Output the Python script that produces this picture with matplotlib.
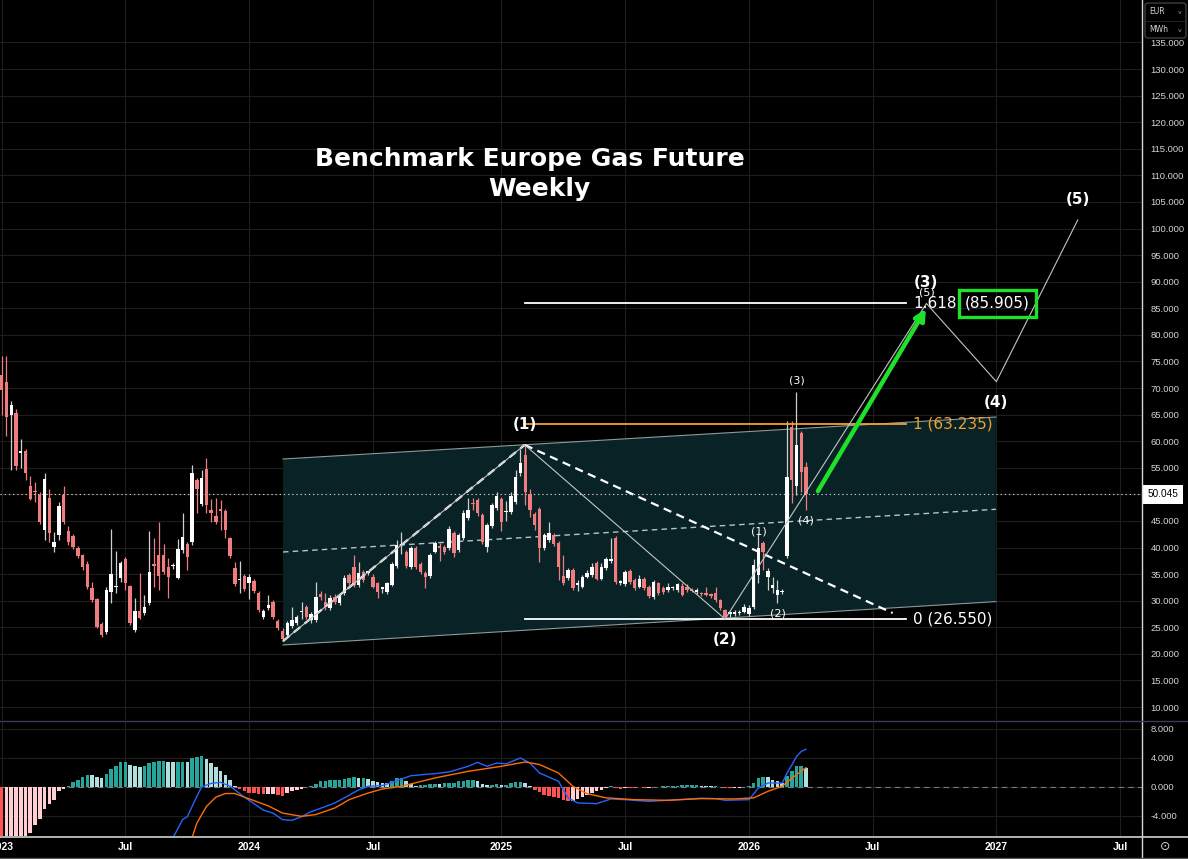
import datetime as dt
import numpy as np
import matplotlib
matplotlib.use("Agg")
import matplotlib.pyplot as plt
from matplotlib.patches import Polygon, FancyBboxPatch
from matplotlib.lines import Line2D
from matplotlib.transforms import blended_transform_factory

plt.rcParams['font.family'] = ['DejaVu Sans']
plt.rcParams['lines.scale_dashes'] = False

# ---------------- data ----------------
start_date = dt.date(2023, 1, 2)   # first weekly candle

opens = [72.4, 71.2, 65.0, 65.3, 57.8, 58.2, 51.6, 50.6, 49.9, 43.3,
         49.3, 40.1, 42.4, 49.9, 43.1, 42.2, 39.9, 38.6, 36.9, 32.4,
         30.3, 25.6, 24.1, 31.6, 32.5, 34.3, 37.8, 32.8, 24.5, 28.1,
         27.7, 29.6, 36.8, 38.6, 38.6, 36.3, 36.5, 34.3, 39.5, 40.7,
         41.0, 52.7, 48.2, 54.8, 47.1, 45.9, 47.2, 46.9, 41.8, 36.2,
         33.8, 34.6, 33.3, 33.7, 31.4, 26.9, 28.6, 29.8, 26.2, 24.3,
         23.5, 25.2, 25.8, 27.8, 28.8, 26.4, 26.4, 31.3, 29.8, 28.6,
         30.7, 29.6, 31.4, 34.8, 36.3, 33.0, 35.4, 35.2, 34.5, 33.3,
         32.2, 31.6, 33.0, 36.5, 40.4, 39.2, 36.3, 39.9, 36.9, 35.2,
         34.6, 39.2, 40.3, 40.1, 39.9, 42.7, 39.5, 41.8, 45.6, 48.3,
         48.9, 46.1, 40.1, 44.1, 47.4, 49.1, 46.6, 46.7, 48.6, 54.0,
         57.4, 50.1, 46.3, 47.3, 39.9, 41.4, 42.4, 40.9, 34.6, 34.3,
         35.8, 33.0, 32.6, 34.5, 34.8, 37.1, 34.1, 36.1, 37.5, 41.8,
         33.4, 33.1, 35.6, 33.9, 32.6, 34.1, 32.6, 30.7, 33.3, 32.4,
         32.0, 32.3, 32.0, 32.8, 32.6, 32.0, 31.6, 31.4, 31.3, 31.2,
         31.4, 30.1, 28.2, 27.5, 27.5, 27.6, 27.9, 27.5, 28.8, 34.8,
         40.9, 34.5, 32.4, 31.1, 31.6, 38.4, 62.7, 51.6, 61.5, 55.2]

highs = [76.0, 76.0, 67.5, 66.0, 60.4, 58.5, 53.5, 52.3, 50.5, 54.0,
         51.0, 43.0, 48.5, 51.6, 44.0, 42.5, 40.2, 38.8, 37.5, 33.5,
         30.5, 26.0, 32.5, 43.5, 39.3, 37.5, 38.2, 33.0, 30.5, 35.2,
         31.0, 43.1, 41.8, 44.8, 40.6, 38.0, 37.0, 41.6, 46.5, 41.0,
         55.6, 53.0, 54.5, 56.8, 49.1, 49.3, 48.9, 47.2, 42.0, 37.3,
         37.5, 35.0, 35.0, 34.0, 31.8, 28.5, 31.0, 30.2, 26.5, 24.8,
         26.2, 28.8, 27.3, 29.7, 29.2, 27.8, 33.5, 31.8, 31.4, 31.0,
         31.2, 31.3, 34.8, 35.2, 38.6, 37.2, 35.8, 35.6, 35.0, 33.6,
         32.6, 33.6, 37.3, 41.5, 42.9, 39.6, 40.2, 40.2, 37.2, 35.5,
         39.0, 41.3, 40.8, 40.5, 44.0, 43.1, 42.8, 47.0, 49.3, 49.3,
         49.3, 46.5, 44.6, 48.4, 50.5, 49.5, 48.8, 50.5, 54.5, 58.5,
         59.1, 51.0, 46.7, 47.7, 42.8, 44.8, 42.8, 41.2, 38.6, 36.2,
         36.2, 33.9, 34.9, 35.8, 37.1, 37.5, 37.1, 38.3, 41.8, 42.1,
         33.9, 35.7, 35.9, 34.2, 34.8, 34.4, 32.9, 33.8, 33.6, 32.7,
         33.4, 32.8, 33.4, 33.3, 33.1, 32.3, 32.4, 31.7, 32.5, 31.5,
         32.6, 30.4, 28.5, 28.0, 28.2, 28.2, 29.3, 29.1, 37.8, 42.7,
         41.2, 36.1, 34.5, 33.8, 32.2, 63.8, 63.8, 69.3, 62.0, 56.0]

lows = [65.0, 61.0, 54.6, 54.5, 55.0, 52.7, 49.0, 48.6, 44.5, 41.5,
        41.0, 39.1, 41.5, 44.5, 40.5, 39.8, 38.0, 35.8, 32.2, 29.8,
        24.8, 23.2, 23.8, 29.6, 31.5, 33.5, 32.0, 25.5, 24.2, 26.5,
        27.3, 29.2, 32.6, 32.0, 35.0, 30.5, 36.0, 34.0, 39.0, 35.8,
        40.5, 46.5, 47.8, 46.5, 44.8, 44.5, 43.3, 41.8, 38.0, 32.8,
        31.5, 31.8, 30.3, 31.4, 27.8, 26.5, 28.3, 26.5, 24.5, 22.4,
        23.2, 24.9, 25.5, 26.6, 26.5, 25.8, 26.0, 30.2, 28.3, 28.2,
        29.4, 29.2, 31.0, 33.0, 32.6, 32.6, 33.5, 34.8, 32.3, 30.5,
        31.4, 31.3, 32.7, 36.2, 38.8, 36.2, 36.0, 35.9, 35.0, 32.4,
        34.3, 38.9, 37.5, 38.8, 39.5, 38.2, 39.2, 41.4, 45.2, 47.0,
        46.0, 40.6, 39.2, 43.7, 47.0, 43.2, 45.0, 46.3, 48.2, 53.5,
        48.0, 45.8, 43.3, 37.3, 39.5, 41.0, 40.3, 33.9, 33.0, 33.9,
        32.0, 31.8, 32.3, 34.2, 34.5, 33.8, 33.8, 35.8, 37.1, 33.2,
        33.0, 32.8, 33.2, 32.1, 32.3, 32.1, 30.6, 30.4, 31.1, 31.3,
        31.7, 32.0, 31.7, 30.8, 31.7, 31.6, 31.3, 30.9, 30.8, 30.6,
        29.8, 28.3, 26.55, 26.9, 27.2, 27.3, 27.6, 27.2, 28.5, 33.3,
        35.8, 32.0, 31.4, 29.6, 31.2, 38.0, 48.4, 49.9, 50.5, 47.1]

closes = [69.6, 64.6, 66.8, 55.3, 57.9, 54.0, 49.1, 50.4, 44.8, 52.9,
          42.7, 41.0, 47.8, 44.8, 41.0, 40.1, 38.4, 36.3, 32.6, 30.1,
          25.0, 23.5, 32.0, 35.0, 32.7, 37.1, 33.3, 25.8, 28.1, 26.8,
          28.8, 35.4, 36.6, 34.6, 35.4, 34.5, 36.6, 39.7, 42.0, 38.2,
          54.0, 51.0, 53.1, 48.0, 46.5, 44.8, 46.9, 43.3, 38.4, 33.1,
          34.0, 32.2, 34.5, 31.8, 28.2, 28.1, 29.2, 26.9, 24.9, 22.8,
          25.8, 26.4, 26.9, 28.0, 26.9, 27.5, 30.7, 30.7, 28.8, 30.5,
          29.8, 30.9, 34.3, 33.3, 33.0, 35.2, 33.9, 35.3, 32.6, 31.6,
          32.3, 33.3, 36.9, 40.5, 40.6, 36.5, 39.9, 36.3, 35.4, 34.5,
          38.6, 40.9, 39.9, 39.2, 43.5, 39.0, 42.4, 46.5, 47.1, 48.1,
          46.5, 41.0, 44.2, 48.0, 49.7, 44.8, 46.8, 49.7, 53.3, 55.9,
          50.4, 47.1, 44.2, 39.9, 42.4, 42.7, 40.7, 36.3, 33.3, 35.8,
          32.4, 33.1, 34.5, 35.2, 36.3, 34.1, 36.3, 37.8, 37.7, 33.5,
          33.6, 35.4, 33.5, 32.4, 34.1, 32.4, 30.9, 33.5, 31.4, 31.6,
          32.6, 32.5, 33.1, 31.1, 32.0, 31.9, 32.1, 31.2, 31.1, 30.9,
          30.1, 28.6, 26.9, 27.6, 27.9, 27.9, 28.8, 28.6, 36.8, 39.9,
          39.2, 35.6, 33.0, 32.0, 31.8, 53.3, 52.7, 59.3, 54.2, 50.045]

macd_hist = [-9.8, -9.4, -8.9, -8.3, -7.7, -7.1, -6.4, -5.2, -4.4, -3.0,
             -2.4, -1.75, -0.6, -0.3, 0.2, 0.64, 1.0, 1.4, 1.7, 1.65,
             1.4, 1.24, 1.84, 2.5, 2.9, 3.45, 3.5, 3.0, 2.85, 2.7,
             2.9, 3.3, 3.5, 3.55, 3.6, 3.45, 3.4, 3.45, 3.5, 3.4,
             4.0, 4.2, 4.25, 3.8, 3.3, 2.7, 2.2, 1.6, 0.9, 0.2,
             -0.23, -0.6, -0.8, -0.85, -0.9, -1.0, -0.95, -0.9, -1.05, -1.3,
             -0.8, -0.6, -0.37, -0.23, -0.05, 0.2, 0.4, 0.8, 0.87, 0.95,
             0.97, 1.0, 1.15, 1.3, 1.32, 1.2, 1.24, 1.1, 0.87, 0.74,
             0.55, 0.5, 0.8, 1.24, 1.26, 0.8, 0.46, 0.18, 0.25, 0.32,
             0.4, 0.45, 0.4, 0.55, 0.56, 0.6, 0.8, 0.87, 0.95, 0.97,
             0.83, 0.46, 0.23, 0.32, 0.46, 0.28, 0.3, 0.55, 0.64, 0.74,
             0.55, 0.2, -0.37, -0.74, -1.05, -1.2, -1.38, -1.5, -1.8, -2.0,
             -1.95, -1.65, -1.38, -1.15, -0.8, -0.6, -0.37, -0.2, 0.14, -0.2,
             -0.22, -0.1, -0.12, -0.14, -0.05, -0.1, -0.08, -0.04, 0.02, 0.09,
             0.14, 0.18, 0.2, 0.23, 0.24, 0.25, 0.26, 0.2, 0.15, 0.12,
             0.18, -0.05, -0.1, -0.18, -0.15, -0.1, -0.05, 0.1, 0.55, 1.24,
             1.38, 1.33, 1.0, 0.78, 0.55, 1.56, 2.16, 2.85, 2.94, 2.62]
hist_before_start = -9.6

macd_weeks = [36, 38, 39, 41, 42, 44, 46, 48, 50, 51, 55, 57, 59, 61, 63, 65, 68, 70, 72, 75,
              77, 80, 84, 86, 91, 94, 98, 100, 102, 104, 106, 109, 111, 113, 117, 119, 121, 125, 128, 131,
              136, 142, 147, 150, 152, 157, 159, 161, 164, 165, 166, 167, 168, 169]
macd_line = [-7.0, -4.5, -4.1, -1.3, 0.0, 0.5, 0.64, 0.1, -0.9, -1.4, -3.2, -3.6, -4.5, -4.6, -4.1, -3.4, -2.7, -2.2, -1.5, -0.4,
             0.1, 0.2, 1.1, 1.56, 1.84, 2.07, 2.85, 3.4, 2.85, 3.3, 3.2, 4.0, 3.3, 1.93, 0.78, -1.5, -2.2, -2.3, -1.65, -1.75,
             -1.98, -1.75, -1.56, -1.6, -1.84, -1.75, -0.14, 0.55, 0.55, 1.9, 3.0, 4.2, 4.9, 5.2]
signal_weeks = [40, 41, 43, 45, 47, 49, 51, 56, 59, 63, 66, 70, 73, 77, 80, 84, 91, 98, 105, 110,
                113, 117, 120, 123, 127, 133, 140, 147, 154, 158, 161, 164, 166, 169]
signal_line = [-7.0, -5.0, -2.7, -1.4, -0.9, -0.9, -1.4, -2.6, -3.6, -4.05, -3.8, -2.9, -1.75, -0.83, -0.28, 0.1, 1.24, 2.16, 2.85, 3.45,
               3.1, 1.93, 0.1, -0.92, -1.5, -1.75, -1.84, -1.6, -1.65, -1.5, -0.6, 0.1, 1.2, 2.67]

date_tick_dates = ['2023-01-02', '2023-07-03', '2024-01-01', '2024-07-01', '2025-01-06',
                   '2025-07-07', '2026-01-05', '2026-07-06', '2027-01-04', '2027-07-05']
date_tick_labels = ['2023', 'Jul', '2024', 'Jul', '2025', 'Jul', '2026', 'Jul', '2027', 'Jul']
price_ticks = list(range(10, 140, 5))
macd_ticks = [-4, 0, 4, 8]

# Elliott wave (1)-(5) path: (week, price)
wave_weeks = [59.1, 109.9, 152.0, 194.3, 209.0, 226.1]
wave_prices = [22.4, 59.3, 26.55, 85.9, 71.2, 101.6]
wave_labels = ['', '(1)', '(2)', '(3)', '(4)', '(5)']
wave_label_side = [0, 1, -1, 1, -1, 1]

# sub-wave labels anchored to candles
sub_weeks = [159, 163, 167, 169, 194.3]
sub_prices = [40.9, 29.6, 69.3, 47.1, 85.9]
sub_labels = ['(1)', '(2)', '(3)', '(4)', '(5)']
sub_side = [1, -1, 1, -1, 1]

# parallel channel
channel_weeks = [59.1, 208.9]
channel_top = [56.65, 64.55]
channel_bottom = [21.67, 29.83]

# dashed trend line from the (1) top
trend_weeks = [109.9, 187.2]
trend_prices = [59.3, 27.68]

# Fibonacci extension levels
fib_ratios = ['0', '1', '1.618']
fib_prices = [26.550, 63.235, 85.905]
fib_weeks = [109.9, 190.0]

# projected impulse arrow
arrow_weeks = [171.5, 194.2]
arrow_prices = [50.6, 84.9]

# ---------------- styling ----------------
W, H = 1188, 859
BG = '#000000'
UP = '#ffffff'
DOWN = '#ef7d80'
GRID = '#1e1e1e'
TEXT = '#d1d4dc'
GREEN = '#1fe02a'
ORANGE = '#f0a030'

fig = plt.figure(figsize=(W / 100, H / 100), dpi=100, facecolor=BG)
ax = fig.add_axes([0, 1 - 720 / H, 1142 / W, 720 / H], facecolor=BG)
axm = fig.add_axes([0, 23 / H, 1142 / W, 115 / H], facecolor=BG)

xmin, xmax = -0.36, 239.6
for a in (ax, axm):
    a.set_xlim(xmin, xmax)
    for s in a.spines.values():
        s.set_visible(False)

def week_of(d):
    return (dt.date.fromisoformat(d) - start_date).days / 7.0

tick_pos = [week_of(d) for d in date_tick_dates]
LAB_FONT = ['Liberation Sans', 'DejaVu Sans']
last = closes[-1]

# ---- main price pane ----
ax.set_ylim(7.56, 142.98)
ax.set_xticks(tick_pos)
ax.tick_params(axis='x', length=0, labelbottom=False)
ax.yaxis.tick_right()
ax.set_yticks(price_ticks)
# the tick label nearest the last-price tag is hidden under it, as in the reference
ax.set_yticklabels(['' if abs(v - last) < 2 else f'{v:.3f}' for v in price_ticks])
ax.tick_params(axis='y', length=0, pad=6, labelsize=6.8, labelcolor=TEXT)
for lab in ax.get_yticklabels():
    lab.set_family(LAB_FONT)
ax.grid(True, color=GRID, lw=0.8, zorder=0)
ax.set_axisbelow(True)

# channel
poly = Polygon([[channel_weeks[0], channel_top[0]], [channel_weeks[1], channel_top[1]],
                [channel_weeks[1], channel_bottom[1]], [channel_weeks[0], channel_bottom[0]]],
               closed=True, facecolor='#082225', edgecolor='none', zorder=1)
ax.add_patch(poly)
ax.plot(channel_weeks, channel_top, color='#8c9a9b', lw=0.8, zorder=1.5)
ax.plot(channel_weeks, channel_bottom, color='#8c9a9b', lw=0.8, zorder=1.5)
mid = [(t + b) / 2 for t, b in zip(channel_top, channel_bottom)]
ax.plot(channel_weeks, mid, color='#b5c4c5', lw=1.0, dashes=(4, 3), zorder=1.5)

# candles
o = np.array(opens); hi = np.array(highs); lo = np.array(lows); c = np.array(closes)
wk = np.arange(len(o))
up = c >= o
body_col = np.where(up, UP, DOWN)
wick_col = np.where(up, '#cfcfcf', DOWN)
ax.vlines(wk, lo, hi, colors=wick_col, lw=0.9, zorder=3)
ax.bar(wk, np.maximum(np.abs(c - o), 0.3), bottom=np.minimum(o, c), width=0.72,
       color=body_col, edgecolor='none', zorder=4)

# current price dotted line
ax.axhline(last, color='#c8c8c8', lw=0.8, ls=(0, (1, 2)), zorder=2)
tr = blended_transform_factory(ax.transAxes, ax.transData)
ax.text(1.0045, last, f'{last:.3f}', transform=tr, color='black', fontsize=7.2,
        family=LAB_FONT, va='center', ha='left', clip_on=False, zorder=20,
        bbox=dict(facecolor='white', edgecolor='none', boxstyle='square,pad=0.45'))

# fib levels
fib_cols = ['white', ORANGE, 'white']
for r, p, col in zip(fib_ratios, fib_prices, fib_cols):
    ax.plot(fib_weeks, [p, p], color=col, lw=1.3, zorder=5)
    if r == '1.618':
        t = ax.text(fib_weeks[1] + 1.5, p, r, color=col, fontsize=11, va='center', ha='left', zorder=8)
        ax.annotate(f'({p:.3f})', xy=(1, 0.5), xycoords=t, xytext=(6, 0), textcoords='offset points',
                    color=col, fontsize=11, va='center', ha='left', zorder=8,
                    bbox=dict(facecolor='none', edgecolor=GREEN, lw=2.4, boxstyle='square,pad=0.38'))
    else:
        ax.text(fib_weeks[1] + 1.5, p, f'{r} ({p:.3f})', color=col, fontsize=11,
                va='center', ha='left', zorder=8)

# trend dashed lines
ax.plot(wave_weeks[:2], wave_prices[:2], color='white', lw=1.6, dashes=(6, 4), zorder=5)
ax.plot(trend_weeks, trend_prices, color='white', lw=1.6, dashes=(6, 4), zorder=5)

# wave path
ax.plot(wave_weeks, wave_prices, color='#c4c4c4', lw=0.8, zorder=6)
for xw, yp, lab, sd in zip(wave_weeks, wave_prices, wave_labels, wave_label_side):
    if lab:
        ax.annotate(lab, xy=(xw, yp), xytext=(0, 15 * sd), textcoords='offset points',
                    ha='center', va='center', color='white', fontsize=11, fontweight='bold', zorder=9)
for xw, yp, lab, sd in zip(sub_weeks, sub_prices, sub_labels, sub_side):
    ax.annotate(lab, xy=(xw, yp), xytext=(0, 8 * sd), textcoords='offset points',
                ha='center', va='center', color='white', fontsize=8, zorder=9)

# green arrow
ax.annotate('', xy=(arrow_weeks[1], arrow_prices[1]), xytext=(arrow_weeks[0], arrow_prices[0]),
            arrowprops=dict(arrowstyle='-|>', color=GREEN, lw=3.2, mutation_scale=16,
                            shrinkA=0, shrinkB=0), zorder=7)

# ---- MACD pane ----
axm.set_ylim(-6.76, 9.1)
h = np.array(macd_hist)
prev = np.concatenate([[hist_before_start], h[:-1]])
hcol = np.where(h >= 0, np.where(h >= prev, '#26a69a', '#b2dfdb'),
                np.where(h < prev, '#ff5252', '#ffcdd2'))
axm.bar(np.arange(len(h)), h, width=0.75, color=hcol, edgecolor='none', zorder=3)
axm.plot(macd_weeks, macd_line, color='#2962ff', lw=1.0, zorder=4)
axm.plot(signal_weeks, signal_line, color='#ff6d00', lw=1.0, zorder=4)
axm.axhline(0, color='#787b86', lw=0.8, dashes=(4, 3), zorder=2)
axm.set_xticks(tick_pos)
axm.set_xticklabels(date_tick_labels)
axm.tick_params(axis='x', length=0, pad=4, labelsize=7.5, labelcolor='white')
for lab in axm.get_xticklabels():
    lab.set_fontweight('bold')
    lab.set_family(LAB_FONT)
axm.yaxis.tick_right()
axm.set_yticks(macd_ticks)
axm.set_yticklabels([f'{v:.3f}' for v in macd_ticks])
axm.tick_params(axis='y', length=0, pad=6, labelsize=6.8, labelcolor=TEXT)
for lab in axm.get_yticklabels():
    lab.set_family(LAB_FONT)
axm.grid(True, color=GRID, lw=0.8, zorder=0)
axm.set_axisbelow(True)

# ---- title ----
fig.text(530 / W, 1 - 159 / H, 'Benchmark Europe Gas Future', ha='center', va='center',
         color='white', fontsize=18, fontweight='bold')
fig.text(539 / W, 1 - 189 / H, 'Weekly', ha='center', va='center',
         color='white', fontsize=18, fontweight='bold')

# ---- frame lines & widgets ----
fig.add_artist(Line2D([1142 / W, 1142 / W], [1 - 857 / H, 1], color='#d8d8d8', lw=1.0))
fig.add_artist(Line2D([0, 1], [1 - 720.5 / H, 1 - 720.5 / H], color='#3b3a58', lw=1.0))
fig.add_artist(Line2D([0, 1], [1 - 836.5 / H, 1 - 836.5 / H], color='#d0d0d0', lw=1.2))
fig.add_artist(Line2D([0, 1], [1 - 857.5 / H, 1 - 857.5 / H], color='#555555', lw=1.0))

fig.add_artist(FancyBboxPatch((1145 / W, 1 - 38 / H), 41 / W, 35 / H,
                              boxstyle='round,pad=0,rounding_size=0.003', transform=fig.transFigure,
                              facecolor='black', edgecolor='#4d4d4d', lw=0.8))
fig.add_artist(Line2D([1145 / W, 1186 / W], [1 - 21 / H, 1 - 21 / H], color='#2a2a2a', lw=0.6))
fig.text(1149 / W, 1 - 12 / H, 'EUR', color=TEXT, fontsize=5.5, va='center', ha='left')
fig.text(1149 / W, 1 - 30 / H, 'MWh', color=TEXT, fontsize=5.5, va='center', ha='left')
fig.text(1180 / W, 1 - 12 / H, 'v', color='#9a9a9a', fontsize=4.5, va='center', ha='center')
fig.text(1180 / W, 1 - 30 / H, 'v', color='#9a9a9a', fontsize=4.5, va='center', ha='center')
fig.text(1165 / W, 1 - 847 / H, '⊙', color=TEXT, fontsize=9, va='center', ha='center')

fig.savefig('out.png', dpi=100, facecolor=BG)
